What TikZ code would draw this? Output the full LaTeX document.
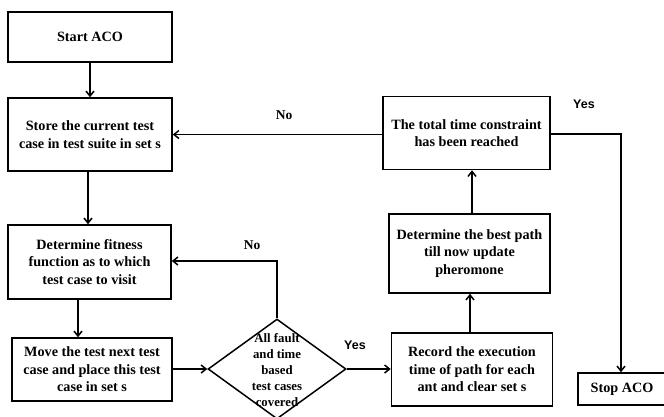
\documentclass[tikz,border=0pt]{standalone}
\usepackage{fontspec}
\setmainfont{Liberation Serif}
\newfontfamily\yesfont{Liberation Sans}
\usetikzlibrary{shapes.geometric,arrows.meta}

\begin{document}
\begin{tikzpicture}[x=1pt,y=-1pt,line width=1.5pt,
  box/.style n args={2}{rectangle,draw,minimum width=#1pt,minimum height=#2pt,inner sep=2pt,align=center,font=\fontsize{14.2}{17.5}\selectfont\bfseries},
  arr/.style={-{Straight Barb[length=5pt,width=8pt]}},
  lbl/.style={font=\fontsize{13.5}{15}\selectfont\bfseries}]
\useasboundingbox (0,0) rectangle (664,416);
% left column
\node[box={164}{50}] (start) at (90,37) {Start ACO};
\node[box={164}{73}] (store) at (90,134.5) {Store the current test\\case in test suite in set s};
\node[box={163}{74}] (fit) at (89.5,262) {Determine fitness\\function as to which\\test case to visit};
\node[box={160}{63}] (move) at (92,369.5) {Move the test next test\\case and place this test\\case in set s};
% decision
\node[diamond,draw,minimum width=138pt,minimum height=100pt,inner sep=0pt] (dec) at (277,369) {};
\node[align=center,font=\fontsize{12.8}{15.8}\selectfont\bfseries] (dectxt) at (277,370) {All fault\\and time\\based\\test cases\\covered};
% right column
\node[box={161}{73}] (rec) at (472,369.5) {Record the execution\\time of path for each\\ant and clear set s};
\node[box={161}{79}] (best) at (469.5,253.5) {Determine the best path\\till now update\\pheromone};
\node[box={167}{73}] (total) at (466.5,133) {The total time constraint\\has been reached};
\node[box={88}{32}] (stop) at (622,389) {Stop ACO};
\coordinate (corner) at (621,134);
\coordinate (nocorner) at (277,261);
% connectors
\draw[arr] (start) -- (store);
\draw[arr] (store.south -| 88,0) -- (fit.north -| 88,0);
\draw[arr] (fit.south -| 78,0) -- (move.north -| 78,0);
\draw[arr] (move.east |- dec) -- (dec.west);
\draw[arr] (dec.east) -- (rec.west |- dec);
\draw[arr] (rec.north -| 470,0) -- (best.south -| 470,0);
\draw[arr] (best.north -| 472,0) -- (total.south -| 472,0);
\draw[arr] (total.west |- store) -- (store.east);
\draw[arr] (dec.north) -- (nocorner) -- (fit.east |- nocorner);
\draw[arr] (total.east |- corner) -- (corner) -- (stop.north -| corner);
% labels
\node[lbl] (no1) at (284,115) {No};
\node[lbl] (no2) at (252,245) {No};
\node[lbl,font=\yesfont\fontsize{12.5}{14}\selectfont\bfseries] (yes1) at (584,104) {Yes};
\node[lbl,font=\yesfont\fontsize{12.5}{14}\selectfont\bfseries] (yes2) at (355,345) {Yes};
\end{tikzpicture}
\end{document}
